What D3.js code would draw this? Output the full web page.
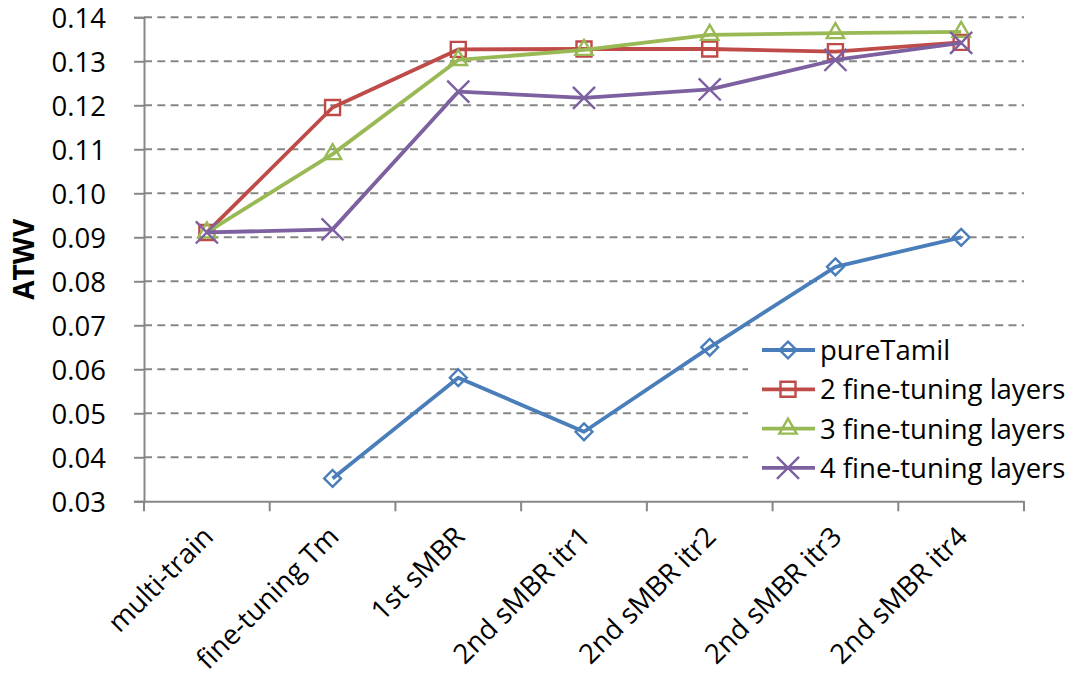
<!DOCTYPE html>
<html>
<head>
<meta charset="utf-8">
<script src="https://cdn.jsdelivr.net/npm/d3@7"></script>
<style>
  html, body { margin: 0; padding: 0; background: #ffffff; }
  svg { display: block; }
  text { font-family: "Open Sans", "Noto Sans", sans-serif; fill: #000; }
</style>
</head>
<body>
<svg id="chart" width="1080" height="681"></svg>
<script>
// Training stages along the x axis
const categories = [
  "multi-train", "fine-tuning Tm", "1st sMBR",
  "2nd sMBR itr1", "2nd sMBR itr2", "2nd sMBR itr3", "2nd sMBR itr4"
];

// ATWV per stage for each system (null = not evaluated)
const pureTamil = [null, 0.0352, 0.0581, 0.0458, 0.0650, 0.0833, 0.0900];
const ft2Layers = [0.0911, 0.1195, 0.1327, 0.1328, 0.1328, 0.1322, 0.1343];
const ft3Layers = [0.0911, 0.1089, 0.1303, 0.1326, 0.1360, 0.1364, 0.1367];
const ft4Layers = [0.0911, 0.0918, 0.1231, 0.1217, 0.1236, 0.1303, 0.1342];

const seriesNames = ["pureTamil", "2 fine-tuning layers", "3 fine-tuning layers", "4 fine-tuning layers"];
const yTickValues = [0.03, 0.04, 0.05, 0.06, 0.07, 0.08, 0.09, 0.10, 0.11, 0.12, 0.13, 0.14];
const yTitle = "ATWV";

const series = [
  { name: seriesNames[0], values: pureTamil, color: "#4A7EBB", symbol: d3.symbolDiamond2, size: 180 },
  { name: seriesNames[1], values: ft2Layers, color: "#BE4B48", symbol: d3.symbolSquare, size: 225 },
  { name: seriesNames[2], values: ft3Layers, color: "#98B954", symbol: d3.symbolTriangle2, size: 215 },
  { name: seriesNames[3], values: ft4Layers, color: "#7D60A0", symbol: d3.symbolX, size: 320 }
];

const svg = d3.select("#chart");
const plot = { left: 144, right: 1024, top: 17.3, bottom: 501.3 };

const x = d3.scaleBand().domain(categories).range([plot.left, plot.right]);
const y = d3.scaleLinear().domain([0.03, 0.14]).range([plot.bottom, plot.top]);
const cx = c => x(c) + x.bandwidth() / 2;

const axisColor = "#878787";
const fontSize = 27.5;

// Horizontal dashed gridlines
svg.append("g")
  .selectAll("line")
  .data(yTickValues.filter(v => v > 0.03))
  .join("line")
  .attr("x1", plot.left).attr("x2", plot.right)
  .attr("y1", d => y(d)).attr("y2", d => y(d))
  .attr("stroke", axisColor)
  .attr("stroke-width", 2)
  .attr("stroke-dasharray", "8,5.3");

// Y axis
const yAxis = d3.axisLeft(y)
  .tickValues(yTickValues)
  .tickFormat(d3.format(".2f"))
  .tickSize(10)
  .tickPadding(28);
const gy = svg.append("g")
  .attr("transform", `translate(${plot.left},0)`)
  .call(yAxis);
gy.select(".domain").attr("stroke", axisColor).attr("stroke-width", 2);
gy.selectAll(".tick line").attr("stroke", axisColor).attr("stroke-width", 2);
gy.selectAll(".tick text")
  .attr("font-size", fontSize)
  .attr("font-family", "'Open Sans', sans-serif")
  .attr("fill", "#000")
  .attr("dy", "0.36em");

// X axis: ticks at category boundaries
const xAxis = d3.axisBottom(x).tickSize(0).tickFormat("");
const gx = svg.append("g")
  .attr("transform", `translate(0,${plot.bottom})`)
  .call(xAxis);
gx.select(".domain").attr("stroke", axisColor).attr("stroke-width", 2);
const boundaries = categories.map(c => x(c)).concat([x(categories[categories.length - 1]) + x.bandwidth()]);
gx.append("g")
  .selectAll("line")
  .data(boundaries)
  .join("line")
  .attr("x1", d => d).attr("x2", d => d)
  .attr("y1", 0).attr("y2", 10)
  .attr("stroke", axisColor)
  .attr("stroke-width", 2);

// Rotated category labels
svg.append("g")
  .selectAll("text")
  .data(categories)
  .join("text")
  .attr("transform", d => `translate(${cx(d) + 8},${plot.bottom + 37}) rotate(-45)`)
  .attr("text-anchor", "end")
  .attr("font-size", fontSize)
  .text(d => d);

// Y axis title
svg.append("text")
  .attr("transform", `translate(34,${(plot.top + plot.bottom) / 2}) rotate(-90)`)
  .attr("text-anchor", "middle")
  .attr("font-size", 28)
  .attr("font-weight", "bold")
  .text(yTitle);

// Series lines and markers
const line = d3.line()
  .defined(d => d.v !== null)
  .x(d => cx(d.c))
  .y(d => y(d.v));

series.forEach(s => {
  const pts = categories.map((c, i) => ({ c, v: s.values[i] }));
  const g = svg.append("g");
  g.append("path")
    .datum(pts)
    .attr("d", line)
    .attr("fill", "none")
    .attr("stroke", s.color)
    .attr("stroke-width", 3.8)
    .attr("stroke-linejoin", "round");
  g.selectAll("path.marker")
    .data(pts.filter(d => d.v !== null))
    .join("path")
    .attr("class", "marker")
    .attr("transform", d => `translate(${cx(d.c)},${y(d.v)})`)
    .attr("d", d3.symbol(s.symbol, s.size))
    .attr("fill", "none")
    .attr("stroke", s.color)
    .attr("stroke-width", 2.4);
});

// Legend with white background
const legend = svg.append("g");
legend.append("rect")
  .attr("x", 748).attr("y", 330)
  .attr("width", 332).attr("height", 160)
  .attr("fill", "#fff");
const rowY = i => 350 + i * 39.3;
series.forEach((s, i) => {
  const r = legend.append("g");
  r.append("line")
    .attr("x1", 762).attr("x2", 815)
    .attr("y1", rowY(i)).attr("y2", rowY(i))
    .attr("stroke", s.color).attr("stroke-width", 3.8);
  r.append("path")
    .attr("transform", `translate(788,${rowY(i)})`)
    .attr("d", d3.symbol(s.symbol, s.size))
    .attr("fill", "none")
    .attr("stroke", s.color)
    .attr("stroke-width", 2.4);
  r.append("text")
    .attr("x", 820).attr("y", rowY(i))
    .attr("dy", "0.36em")
    .attr("font-size", fontSize)
    .text(s.name);
});
</script>
</body>
</html>
